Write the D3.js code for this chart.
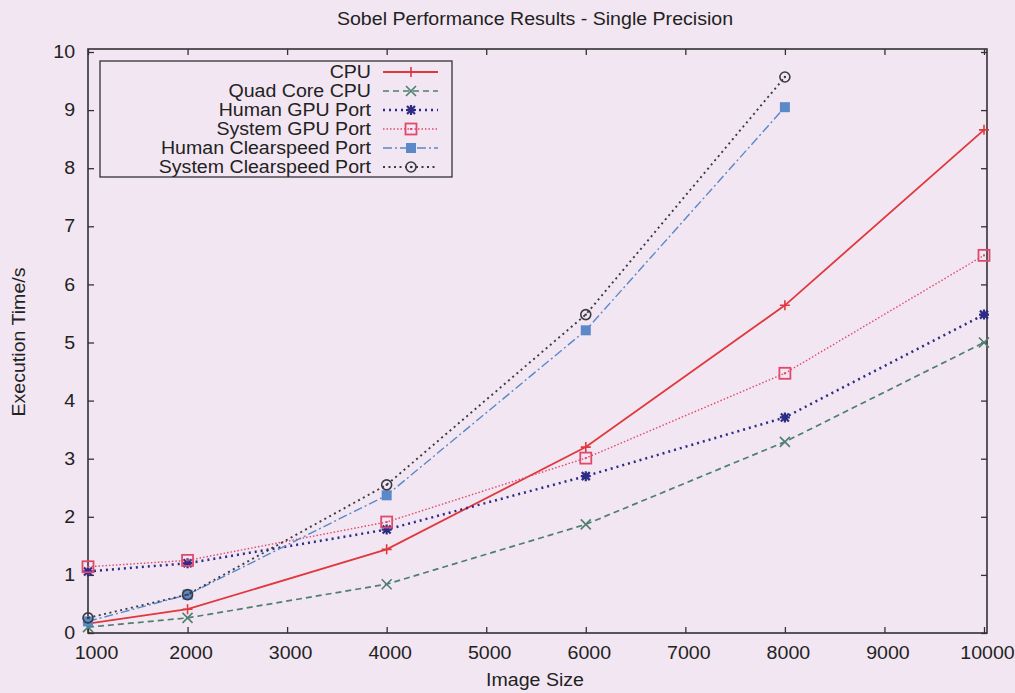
<!DOCTYPE html>
<html><head><meta charset="utf-8">
<script src="https://cdn.jsdelivr.net/npm/d3@7"></script>
<style>body{margin:0;background:#f2e6f2;}svg{display:block;font-family:"Liberation Sans",Arial,sans-serif;}</style>
</head><body><svg id="c" width="1015" height="693"></svg>
<script>
const sizes = [1000, 2000, 4000, 6000, 8000, 10000];
const cpu = [0.16, 0.41, 1.44, 3.2, 5.64, 8.66];
const quadCore = [0.1, 0.26, 0.84, 1.87, 3.29, 5.0];
const humanGPU = [1.06, 1.2, 1.78, 2.7, 3.71, 5.48];
const systemGPU = [1.14, 1.25, 1.91, 3.01, 4.47, 6.5];
const humanClear = [0.2, 0.66, 2.37, 5.21, 9.05];
const systemClear = [0.26, 0.66, 2.55, 5.48, 9.57];
const xTicks = [1000,2000,3000,4000,5000,6000,7000,8000,9000,10000];
const yTicks = [0,1,2,3,4,5,6,7,8,9,10];

const series = [
  {name:"CPU", vals:cpu, color:"#e0383c", dash:null, w:1.8, mark:"plus"},
  {name:"Quad Core CPU", vals:quadCore, color:"#4f7f6f", dash:"6,4", w:1.7, mark:"cross"},
  {name:"Human GPU Port", vals:humanGPU, color:"#2c2c86", dash:"2,4", w:2.5, mark:"star"},
  {name:"System GPU Port", vals:systemGPU, color:"#e04a6a", dash:"1.5,2", w:1.4, mark:"osquare"},
  {name:"Human Clearspeed Port", vals:humanClear, color:"#5a88c8", dash:"9,3,2,3", w:1.4, mark:"fsquare"},
  {name:"System Clearspeed Port", vals:systemClear, color:"#3a3a44", dash:"2,3.5", w:1.9, mark:"circle"}
];

const FS = 17.5, SX = 1.12;
const svg = d3.select("#c");
const L=88, R=984, T=52, B=633;
const x = d3.scaleLinear().domain([1000,10000]).range([L,R]);
const y = d3.scaleLinear().domain([0,10]).range([B,T]);

function label(px, py, txt, anchor, rot){
  const g = svg.append("g").attr("transform",`translate(${px},${py})${rot?` rotate(${rot})`:""} scale(${SX},1)`);
  g.append("text").attr("text-anchor",anchor).attr("font-size",FS).attr("fill","#222").text(txt);
  return g;
}

// frame
svg.append("rect").attr("x",L).attr("y",T-3).attr("width",R-L+3).attr("height",B-T+3)
  .attr("fill","none").attr("stroke","#333").attr("stroke-width",1.6);

// axes
const gx = svg.append("g").attr("transform",`translate(0,${B})`)
  .call(d3.axisBottom(x).tickValues(xTicks).tickSize(-6).tickPadding(14).tickFormat(d3.format("d")));
const gxt = svg.append("g").attr("transform",`translate(0,${T-3})`)
  .call(d3.axisTop(x).tickValues(xTicks).tickSize(-6).tickFormat(""));
const gy = svg.append("g").attr("transform",`translate(${L},0)`)
  .call(d3.axisLeft(y).tickValues(yTicks).tickSize(-6).tickPadding(11.5).tickFormat(d3.format("d")));
const gyr = svg.append("g").attr("transform",`translate(${R+3},0)`)
  .call(d3.axisRight(y).tickValues(yTicks).tickSize(-6).tickFormat(""));
[gx,gxt,gy,gyr].forEach(g=>{
  g.select(".domain").remove();
  g.selectAll(".tick line").attr("stroke","#333").attr("stroke-width",1.3);
  g.selectAll("text").attr("font-size",FS).attr("fill","#222")
    .attr("font-family","Liberation Sans, Arial, sans-serif").attr("transform",`scale(${SX},1)`);
});
gx.selectAll(".tick text").attr("transform",(d,i)=>`translate(${i===0?8:3},0) scale(${SX},1)`);

// labels
label(535, 25, "Sobel Performance Results - Single Precision", "middle");
label(535, 686, "Image Size", "middle");
label(25, 342, "Execution Time/s", "middle", -90);

function marker(g, cx, cy, s){
  const c=s.color;
  if(s.mark==="plus"){
    g.append("path").attr("d",`M${cx-5},${cy}H${cx+5}M${cx},${cy-5}V${cy+5}`).attr("stroke",c).attr("stroke-width",1.6);
  } else if(s.mark==="cross"){
    g.append("path").attr("d",`M${cx-5},${cy-5}L${cx+5},${cy+5}M${cx-5},${cy+5}L${cx+5},${cy-5}`).attr("stroke",c).attr("stroke-width",1.6);
  } else if(s.mark==="star"){
    g.append("path").attr("d",`M${cx-5},${cy}H${cx+5}M${cx},${cy-5}V${cy+5}M${cx-4},${cy-4}L${cx+4},${cy+4}M${cx-4},${cy+4}L${cx+4},${cy-4}`).attr("stroke",c).attr("stroke-width",2.2);
  } else if(s.mark==="osquare"){
    g.append("rect").attr("x",cx-5.5).attr("y",cy-5.5).attr("width",11).attr("height",11).attr("fill","none").attr("stroke",c).attr("stroke-width",1.8);
    g.append("rect").attr("x",cx-1).attr("y",cy-1).attr("width",2).attr("height",2).attr("fill",c);
  } else if(s.mark==="fsquare"){
    g.append("rect").attr("x",cx-5).attr("y",cy-5).attr("width",10).attr("height",10).attr("fill",c);
  } else if(s.mark==="circle"){
    g.append("circle").attr("cx",cx).attr("cy",cy).attr("r",5).attr("fill","none").attr("stroke",c).attr("stroke-width",1.6);
    g.append("circle").attr("cx",cx).attr("cy",cy).attr("r",1.2).attr("fill",c);
  }
}

const line = d3.line().x(d=>x(d[0])).y(d=>y(d[1]));
series.forEach(s=>{
  const pts = s.vals.map((v,i)=>[sizes[i],v]);
  const g = svg.append("g");
  g.append("path").attr("d",line(pts)).attr("fill","none").attr("stroke",s.color)
    .attr("stroke-width",s.w).attr("stroke-dasharray",s.dash);
  pts.forEach(p=>marker(g,x(p[0]),y(p[1]),s));
});

// legend
const lg = svg.append("g");
lg.append("rect").attr("x",100).attr("y",61).attr("width",352).attr("height",116)
  .attr("fill","#f2e6f2").attr("stroke","#333").attr("stroke-width",1.3);
series.forEach((s,i)=>{
  const yy = 72 + i*19;
  const tg = lg.append("g").attr("transform",`translate(371,${yy+6}) scale(${SX},1)`);
  tg.append("text").attr("text-anchor","end").attr("font-size",FS).attr("fill","#222").text(s.name);
  lg.append("line").attr("x1",383).attr("x2",438).attr("y1",yy).attr("y2",yy).attr("stroke",s.color)
    .attr("stroke-width",s.w).attr("stroke-dasharray",s.dash);
  marker(lg,411,yy,s);
});
</script></body></html>
